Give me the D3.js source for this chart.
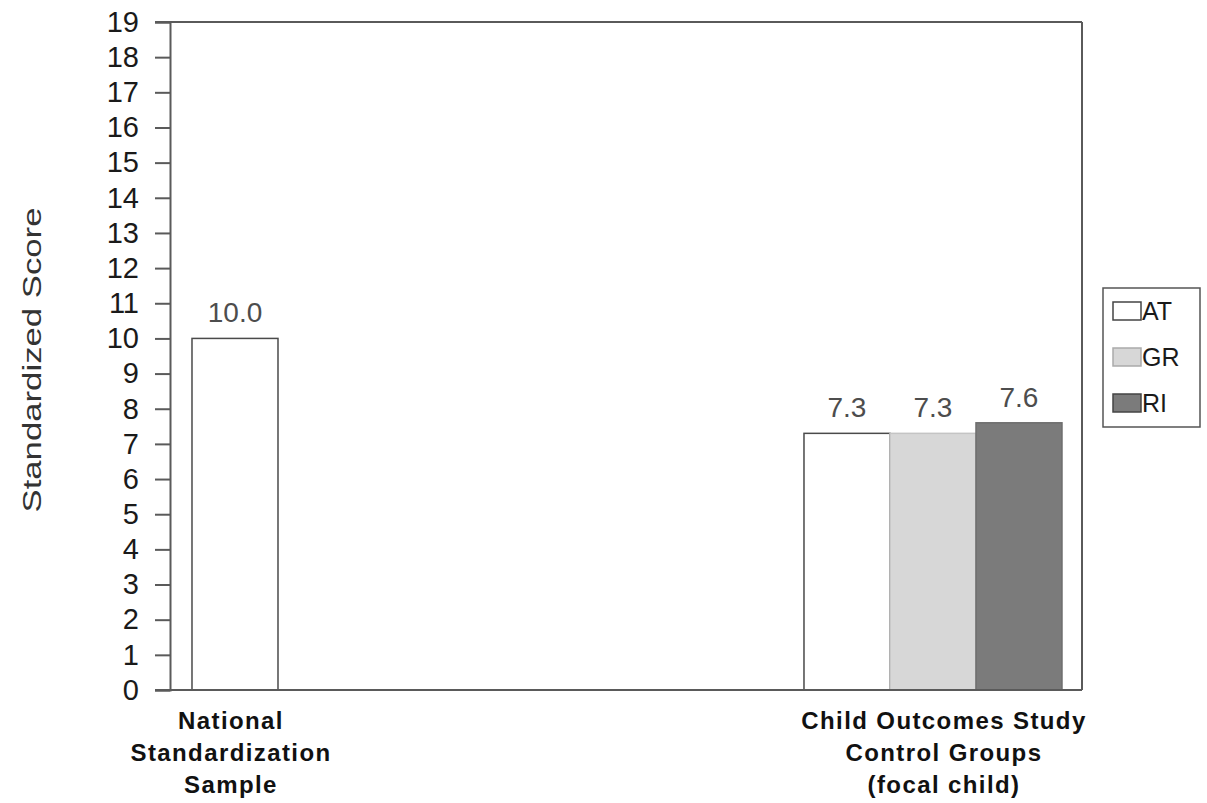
<!DOCTYPE html>
<html>
<head>
<meta charset="utf-8">
<script src="https://cdn.jsdelivr.net/npm/d3@7"></script>
<style>
  html, body { margin: 0; padding: 0; background: #fff; }
  svg { display: block; font-family: "Liberation Sans", Arial, sans-serif; }
</style>
</head>
<body>
<svg id="chart" width="1207" height="803"></svg>
<script>
// Categories along the x axis, each split into display lines
const categories = ["National Standardization Sample", "Child Outcomes Study Control Groups (focal child)"];
const categoryLines = [
  ["National", "Standardization", "Sample"],
  ["Child Outcomes Study", "Control Groups", "(focal child)"]
];
// Series shown in the legend and their values for the control groups
const seriesNames = ["AT", "GR", "RI"];
const controlGroupValues = [7.3, 7.3, 7.6];
// Single bar for the national sample
const nationalValues = [10.0];
// y axis ticks
const yTicks = d3.range(0, 20);

const fills = { National: "#ffffff", AT: "#ffffff", GR: "#d7d7d7", RI: "#7b7b7b" };
const strokes = { National: "#4a4a4a", AT: "#4a4a4a", GR: "#c4c4c4", RI: "#6e6e6e" };

const svg = d3.select("#chart");
const plot = { left: 170, right: 1082, top: 22, bottom: 690 };
const barW = 86;

const y = d3.scaleLinear().domain([0, 19]).range([plot.bottom, plot.top]);
const x = d3.scalePoint().domain(categories)
  .range([plot.left, plot.right]).padding(0.1533).align(0.3037);

const groups = [
  { cat: categories[0], bars: nationalValues.map(v => ({ key: "National", value: v })) },
  { cat: categories[1], bars: controlGroupValues.map((v, i) => ({ key: seriesNames[i], value: v })) }
];

// Bars
groups.forEach(g => {
  const inner = d3.scaleBand().domain(g.bars.map(b => b.key))
    .range([-g.bars.length * barW / 2, g.bars.length * barW / 2]);
  const gg = svg.append("g").attr("transform", `translate(${x(g.cat)},0)`);
  gg.selectAll("rect").data(g.bars).join("rect")
    .attr("x", d => inner(d.key))
    .attr("y", d => y(d.value))
    .attr("width", inner.bandwidth())
    .attr("height", d => y(0) - y(d.value))
    .attr("fill", d => fills[d.key])
    .attr("stroke", d => strokes[d.key])
    .attr("stroke-width", 1.5);
  gg.selectAll("text.val").data(g.bars).join("text")
    .attr("class", "val")
    .attr("x", d => inner(d.key) + inner.bandwidth() / 2)
    .attr("y", d => y(d.value) - 16)
    .attr("text-anchor", "middle")
    .attr("font-size", 28)
    .attr("fill", "#4d4d4d")
    .text(d => d.value.toFixed(1));
});

// Frame: top and right borders
svg.append("line").attr("x1", plot.left - 15).attr("x2", plot.right)
  .attr("y1", plot.top).attr("y2", plot.top)
  .attr("stroke", "#5a5a5a").attr("stroke-width", 2);
svg.append("line").attr("x1", plot.right).attr("x2", plot.right)
  .attr("y1", plot.top).attr("y2", plot.bottom)
  .attr("stroke", "#5a5a5a").attr("stroke-width", 2);

// y axis
const yAxis = svg.append("g")
  .attr("transform", `translate(${plot.left},0)`)
  .call(d3.axisLeft(y).tickValues(yTicks).tickSize(15).tickPadding(16).tickFormat(d3.format("d")));
yAxis.select(".domain").attr("stroke", "#5a5a5a").attr("stroke-width", 2);
yAxis.selectAll(".tick line").attr("stroke", "#5a5a5a").attr("stroke-width", 2);
yAxis.selectAll(".tick text").attr("font-size", 29).attr("fill", "#1a1a1a")
  .attr("font-family", "'Liberation Sans', Arial, sans-serif");

// Baseline
svg.append("line").attr("x1", plot.left - 15).attr("x2", plot.right)
  .attr("y1", y(0)).attr("y2", y(0))
  .attr("stroke", "#5a5a5a").attr("stroke-width", 2);

// Category labels
categories.forEach((c, i) => {
  const t = svg.append("text")
    .attr("text-anchor", "middle")
    .attr("font-size", 24)
    .attr("font-weight", "bold")
    .attr("letter-spacing", 1.4)
    .attr("fill", "#111");
  categoryLines[i].forEach((line, j) => {
    t.append("tspan").attr("x", x(c) + (i === 0 ? -4 : 11)).attr("y", 729 + j * 32).text(line);
  });
});

// y axis title
svg.append("text")
  .attr("transform", "translate(41,360) rotate(-90)")
  .attr("text-anchor", "middle")
  .attr("font-size", 25)
  .attr("fill", "#333")
  .attr("textLength", 305)
  .attr("lengthAdjust", "spacingAndGlyphs")
  .text("Standardized Score");

// Legend
const legend = svg.append("g").attr("transform", "translate(1103,288)");
legend.append("rect").attr("width", 97).attr("height", 139)
  .attr("fill", "#fff").attr("stroke", "#555").attr("stroke-width", 1.5);
const items = legend.selectAll("g.item").data(seriesNames).join("g")
  .attr("class", "item")
  .attr("transform", (d, i) => `translate(10,${23 + i * 46})`);
items.append("rect").attr("x", 0).attr("y", -9).attr("width", 28).attr("height", 18)
  .attr("fill", d => fills[d])
  .attr("stroke", d => d === "GR" ? "#aaa" : "#444").attr("stroke-width", 1.5);
items.append("text").attr("x", 29).attr("y", 9)
  .attr("font-size", 25).attr("fill", "#1a1a1a").text(d => d);
</script>
</body>
</html>
